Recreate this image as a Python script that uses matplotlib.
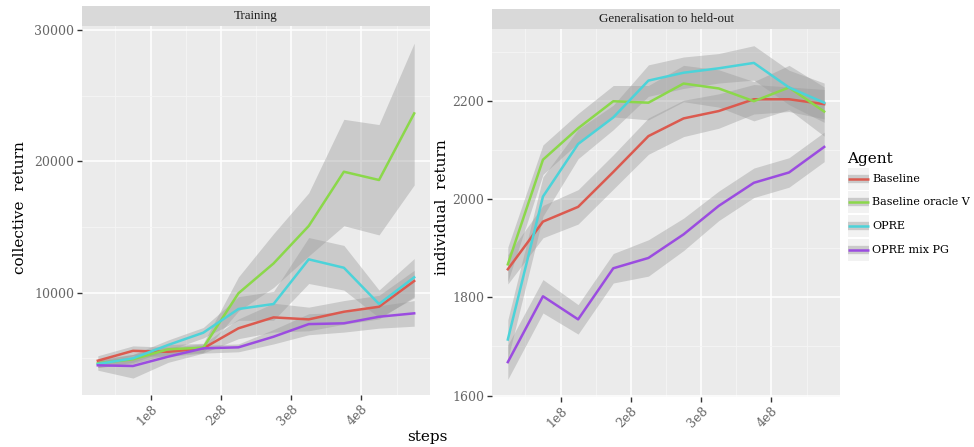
import numpy as np
import matplotlib.pyplot as plt
from matplotlib.patches import Rectangle
from matplotlib.lines import Line2D

plt.rcParams['font.family'] = 'DejaVu Serif'

steps = [2.5e7, 7.5e7, 1.25e8, 1.75e8, 2.25e8, 2.75e8, 3.25e8, 3.75e8, 4.25e8, 4.75e8]
agents = ['Baseline', 'Baseline oracle V', 'OPRE', 'OPRE mix PG']
colors = ['#DB5A4F', '#8BD84A', '#4CD3D9', '#9B4CE0']

# Training: collective return (mean, lower, upper)
train_mean = [
    [4825, 5575, 5500, 5765, 7290, 8120, 7970, 8550, 8930, 10890],
    [4625, 4930, 5690, 5815, 9955, 12230, 15080, 19210, 18580, 23650],
    [4570, 5005, 6020, 6955, 8760, 9140, 12540, 11900, 9140, 11170],
    [4470, 4420, 5130, 5765, 5840, 6650, 7610, 7670, 8170, 8430],
]
train_lo = [
    [4450, 5200, 5150, 5400, 6500, 7000, 7100, 7600, 8000, 9700],
    [4300, 4600, 5300, 5450, 8600, 10400, 12800, 15100, 14400, 18200],
    [4300, 4700, 5600, 6550, 7900, 7900, 10700, 10200, 8100, 9600],
    [4100, 3500, 4700, 5400, 5500, 6100, 6800, 7000, 7300, 7450],
]
train_hi = [
    [5200, 5950, 5850, 6100, 8000, 9200, 8900, 9400, 9800, 11700],
    [4950, 5300, 6050, 6150, 11200, 14500, 17600, 23200, 22800, 29000],
    [4850, 5300, 6400, 7350, 9700, 10100, 14200, 13600, 10200, 12600],
    [4800, 5100, 5600, 6000, 6100, 7200, 8400, 8500, 9000, 9400],
]

# Generalisation to held-out: individual return
held_mean = [
    [1857, 1954, 1984, 2055, 2128, 2164, 2179, 2203, 2203, 2193],
    [1867, 2080, 2144, 2199, 2196, 2235, 2225, 2199, 2227, 2178],
    [1714, 2005, 2112, 2166, 2241, 2257, 2266, 2277, 2227, 2196],
    [1668, 1802, 1755, 1859, 1880, 1928, 1986, 2033, 2054, 2106],
]
held_lo = [
    [1827, 1921, 1949, 2020, 2091, 2127, 2144, 2173, 2178, 2163],
    [1832, 2050, 2114, 2167, 2161, 2198, 2187, 2159, 2182, 2128],
    [1674, 1965, 2082, 2141, 2209, 2225, 2236, 2242, 2192, 2156],
    [1633, 1768, 1725, 1829, 1843, 1895, 1956, 2003, 2024, 2076],
]
held_hi = [
    [1887, 1987, 2019, 2090, 2165, 2201, 2214, 2233, 2228, 2223],
    [1902, 2110, 2174, 2231, 2231, 2272, 2263, 2239, 2272, 2228],
    [1754, 2045, 2142, 2191, 2273, 2289, 2296, 2312, 2262, 2236],
    [1703, 1836, 1785, 1889, 1917, 1961, 2016, 2063, 2084, 2136],
]

W, H = 974, 447
fig = plt.figure(figsize=(W / 100, H / 100), dpi=100)


def px_axes(x0, y0, x1, y1):
    return fig.add_axes([x0 / W, 1 - y1 / H, (x1 - x0) / W, (y1 - y0) / H])


def panel(box, strip_top, title, mean, lo, hi, ylim, yticks, yminor):
    x0, y0, x1, y1 = box
    ax = px_axes(x0, y0, x1, y1)
    ax.set_facecolor('#EBEBEB')
    for s in ax.spines.values():
        s.set_visible(False)
    ax.set_xlim(2.5e6, 4.975e8)
    ax.set_ylim(*ylim)
    ax.set_xticks([1e8, 2e8, 3e8, 4e8])
    ax.set_xticklabels(['1e8', '2e8', '3e8', '4e8'], rotation=45, ha='right',
                       va='top', rotation_mode='anchor')
    ax.set_xticks([0.5e8, 1.5e8, 2.5e8, 3.5e8, 4.5e8], minor=True)
    ax.set_yticks(yticks)
    ax.set_yticklabels([str(v) for v in yticks])
    ax.set_yticks(yminor, minor=True)
    ax.tick_params(which='major', length=3.5, width=1, color='#333333',
                   labelcolor='#666666', labelsize=9, pad=2)
    ax.tick_params(which='minor', length=0)
    ax.grid(which='major', color='white', lw=1.1)
    ax.grid(which='minor', color='#F5F5F5', lw=0.6)
    ax.set_axisbelow(True)
    for m, l, h in zip(mean, lo, hi):
        ax.fill_between(steps, l, h, color='#999999', alpha=0.4, lw=0)
    for m, c in zip(mean, colors):
        ax.plot(steps, m, color=c, lw=1.8)
    st = px_axes(x0, strip_top, x1, y0)
    st.set_facecolor('#D9D9D9')
    st.set_xticks([])
    st.set_yticks([])
    for s in st.spines.values():
        s.set_visible(False)
    st.text(0.5, 0.5, title, ha='center', va='center', fontsize=9.4,
            family='Liberation Serif', color='#1A1A1A')
    return ax


panel((82, 26, 430, 395), 6, 'Training', train_mean, train_lo, train_hi,
      (2212, 30305), [10000, 20000, 30000], [5000, 15000, 25000])
panel((492, 29, 840, 397), 9, 'Generalisation to held-out', held_mean,
      held_lo, held_hi, (1597, 2346), [1600, 1800, 2000, 2200],
      [1700, 1900, 2100, 2300])

fig.text(20 / W, 1 - 208 / H, 'collective  return', rotation=90, ha='center',
         va='center', fontsize=11)
fig.text(442 / W, 1 - 207 / H, 'individual  return', rotation=90, ha='center',
         va='center', fontsize=11)
fig.text(427 / W, 1 - 437 / H, 'steps', ha='center', va='center', fontsize=11)

# legend
fig.text(847 / W, 1 - 159 / H, 'Agent', ha='left', va='center', fontsize=11)
for i, (name, c) in enumerate(zip(agents, colors)):
    yc = 178.5 + i * 23.7
    fig.add_artist(Rectangle((848 / W, 1 - (yc + 11) / H), 21 / W, 22 / H,
                             transform=fig.transFigure, facecolor='#F2F2F2',
                             edgecolor='none'))
    fig.add_artist(Line2D([848 / W, 869 / W], [1 - yc / H] * 2,
                          transform=fig.transFigure, color='#CACACA', lw=6,
                          solid_capstyle='butt'))
    fig.add_artist(Line2D([848 / W, 869 / W], [1 - yc / H] * 2,
                          transform=fig.transFigure, color=c, lw=1.8,
                          solid_capstyle='butt'))
    fig.text(872 / W, 1 - yc / H, name, ha='left', va='center', fontsize=8)

fig.savefig('out.png', dpi=100)
